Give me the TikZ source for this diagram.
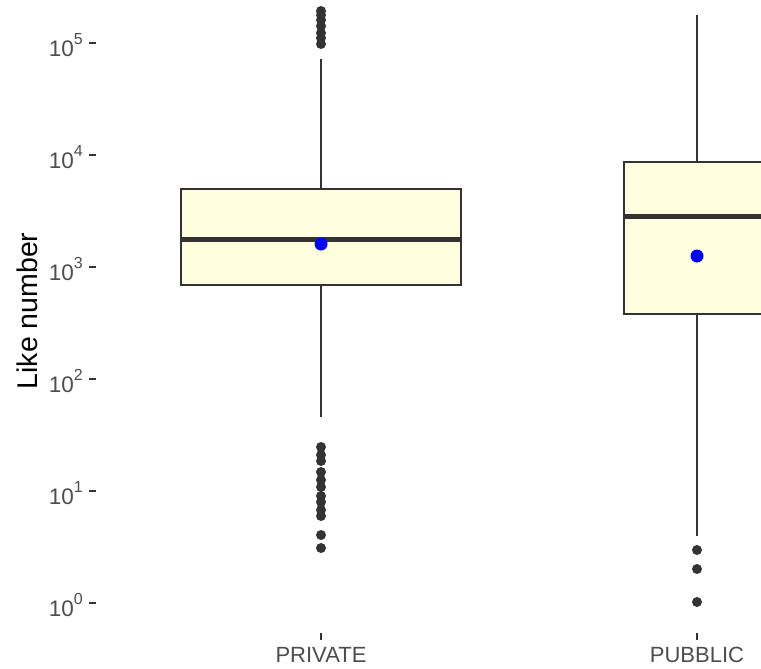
\documentclass[tikz,border=0pt]{standalone}
\usepackage{fontspec}
\setmainfont{Liberation Sans}
\definecolor{cdark}{HTML}{333333}
\definecolor{cgrey}{HTML}{4D4D4D}
\definecolor{boxfill}{HTML}{FFFFE0}
\newcommand{\tenpow}[1]{10\raisebox{12pt}{\fontsize{16}{16}\selectfont #1}}
\begin{document}
\begin{tikzpicture}[x=1pt,y=-1pt,
  boxst/.style={draw=cdark,fill=boxfill,line width=2.3pt,inner sep=0pt},
  whisk/.style={draw=cdark,line width=2.2pt},
  medline/.style={draw=cdark,line width=5pt},
  outl/.style={circle,fill=cdark,inner sep=0pt,minimum size=10pt},
  meanpt/.style={circle,fill=blue,inner sep=0pt,minimum size=13pt},
  ylabs/.style={anchor=east,text=cgrey,font=\fontsize{22.5}{24}\selectfont,inner sep=0pt},
  xlabs/.style={anchor=north,text=cgrey,font=\fontsize{22}{24}\selectfont,inner sep=0pt},
  tickm/.style={draw=cdark,line width=2.2pt}]
\useasboundingbox (0,0) rectangle (761,669);
\clip (0,0) rectangle (761,669);

% y axis ticks and labels
\foreach \k in {0,...,5}{
  \coordinate (yt\k a) at (89,603-112*\k);
  \coordinate (yt\k b) at (96,603-112*\k);
  \draw[tickm] (yt\k a) -- (yt\k b);
  \node[ylabs] (yl\k) at (83,605-112*\k) {\tenpow{\k}};
}
\node[rotate=90,font=\fontsize{28.5}{30}\selectfont,inner sep=0pt] (ytitle) at (27,311) {Like number};

% x ticks and labels
\coordinate (xt1a) at (321,633); \coordinate (xt1b) at (321,640);
\coordinate (xt2a) at (697,633); \coordinate (xt2b) at (697,640);
\draw[tickm] (xt1a) -- (xt1b);
\draw[tickm] (xt2a) -- (xt2b);
\node[xlabs] (xl1) at (321,647) {PRIVATE};
\node[xlabs] (xl2) at (697,647) {PUBBLIC};

% PRIVATE box
\coordinate (pwtop) at (321,59);
\coordinate (pwbot) at (321,417);
\node[boxst,minimum width=280pt,minimum height=96pt] (pbox) at (321,237) {};
\draw[whisk] (pbox.north) -- (pwtop);
\draw[whisk] (pbox.south) -- (pwbot);
\coordinate (pmedl) at (181,239); \coordinate (pmedr) at (461,239);
\draw[medline] (pmedl) -- (pmedr);
\foreach \y [count=\i] in {11,15,20,26,33,38,44}{
  \node[outl] (pout\i) at (321,\y) {};
}
\foreach \y [count=\i] in {447,455,461,472,480,487,496,502,510,516,535,548}{
  \node[outl] (plow\i) at (321,\y) {};
}
\node[meanpt] (pmean) at (321,244) {};

% PUBBLIC box
\coordinate (qwtop) at (697,15);
\coordinate (qwbot) at (697,536);
\node[boxst,minimum width=146pt,minimum height=152pt] (qbox) at (697,238) {};
\draw[whisk] (qbox.north) -- (qwtop);
\draw[whisk] (qbox.south) -- (qwbot);
\coordinate (qmedl) at (624,216); \coordinate (qmedr) at (770,216);
\draw[medline] (qmedl) -- (qmedr);
\foreach \y [count=\i] in {550,569,602}{
  \node[outl] (qlow\i) at (697,\y) {};
}
\node[meanpt] (qmean) at (697,256) {};
\end{tikzpicture}
\end{document}
